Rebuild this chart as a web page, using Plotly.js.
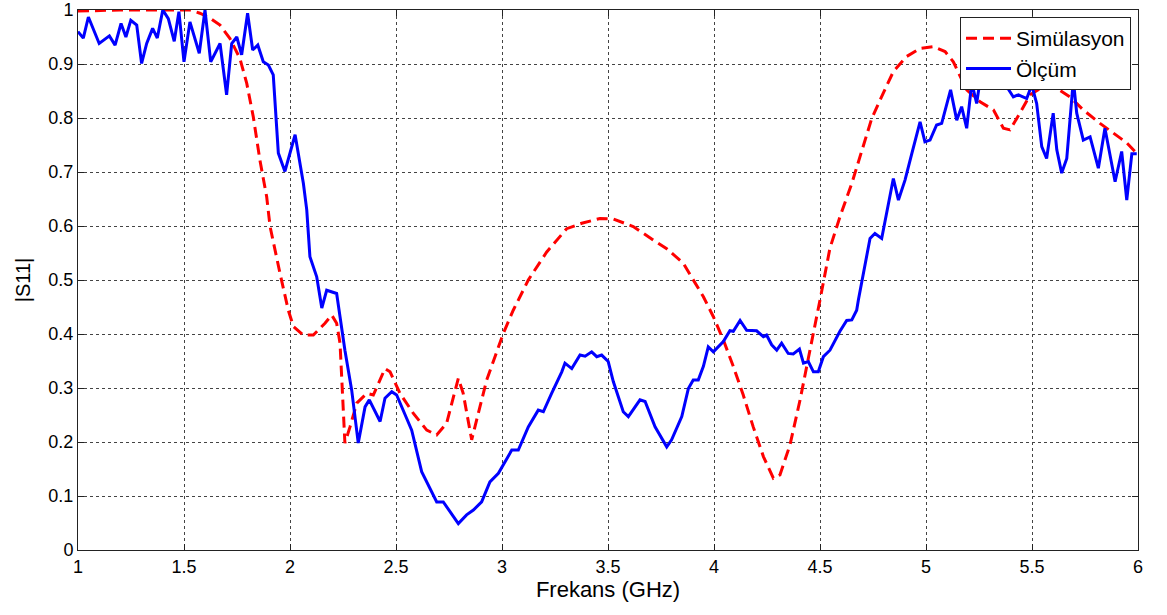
<!DOCTYPE html>
<html>
<head>
<meta charset="utf-8">
<script src="https://cdn.plot.ly/plotly-3.0.1.min.js"></script>
<style>html,body{margin:0;padding:0;background:#fff;}#chart{width:1167px;height:615px;}</style>
</head>
<body>
<div id="chart"></div>
<script>
// Simulation (red dashed)
const simFreq = [1.0,1.198,1.387,1.528,1.575,1.623,1.670,1.717,1.764,1.796,1.827,1.858,1.890,1.906,1.953,1.992,2.016,2.063,2.110,2.165,2.197,2.220,2.236,2.245,2.259,2.283,2.315,2.362,2.393,2.448,2.472,2.519,2.582,2.645,2.692,2.739,2.794,2.817,2.857,2.888,2.928,2.967,3.006,3.053,3.124,3.211,3.305,3.376,3.462,3.525,3.619,3.714,3.777,3.855,3.902,3.950,3.997,4.044,4.091,4.138,4.185,4.233,4.280,4.311,4.358,4.406,4.445,4.476,4.500,4.547,4.594,4.650,4.697,4.744,4.783,4.846,4.909,4.972,5.035,5.090,5.129,5.192,5.255,5.318,5.365,5.396,5.443,5.491,5.553,5.617,5.679,5.742,5.821,5.884,5.947,5.986];
const simS11 = [0.998,1.0,1.0,1.0,0.994,0.985,0.972,0.947,0.910,0.864,0.802,0.722,0.654,0.599,0.512,0.444,0.414,0.398,0.398,0.420,0.435,0.420,0.383,0.300,0.198,0.228,0.272,0.290,0.287,0.336,0.330,0.290,0.253,0.222,0.213,0.235,0.318,0.290,0.204,0.253,0.315,0.358,0.401,0.444,0.500,0.552,0.595,0.605,0.614,0.613,0.599,0.574,0.558,0.531,0.500,0.469,0.432,0.389,0.340,0.287,0.228,0.173,0.133,0.139,0.194,0.278,0.355,0.414,0.463,0.559,0.617,0.679,0.741,0.799,0.833,0.886,0.914,0.929,0.932,0.923,0.904,0.852,0.830,0.815,0.781,0.778,0.809,0.843,0.858,0.855,0.839,0.815,0.790,0.772,0.754,0.738];

// Measurement (blue solid)
const measFreq = [1.000,1.025,1.049,1.100,1.148,1.175,1.203,1.226,1.249,1.277,1.300,1.324,1.352,1.374,1.400,1.426,1.454,1.476,1.500,1.528,1.572,1.599,1.626,1.670,1.701,1.725,1.749,1.772,1.800,1.824,1.848,1.874,1.898,1.921,1.945,1.976,2.024,2.063,2.079,2.094,2.126,2.150,2.173,2.220,2.236,2.259,2.291,2.322,2.354,2.374,2.425,2.448,2.480,2.503,2.550,2.574,2.621,2.645,2.692,2.723,2.794,2.833,2.865,2.904,2.943,2.983,3.046,3.077,3.124,3.171,3.195,3.234,3.282,3.297,3.329,3.368,3.392,3.423,3.447,3.470,3.501,3.525,3.572,3.596,3.651,3.675,3.722,3.777,3.800,3.848,3.879,3.902,3.926,3.950,3.973,3.997,4.044,4.075,4.091,4.123,4.154,4.201,4.233,4.248,4.272,4.296,4.319,4.350,4.374,4.403,4.422,4.445,4.469,4.492,4.516,4.547,4.594,4.626,4.650,4.673,4.681,4.736,4.759,4.791,4.815,4.846,4.870,4.901,4.933,4.972,4.995,5.019,5.050,5.074,5.116,5.145,5.168,5.192,5.216,5.239,5.255,5.283,5.318,5.349,5.381,5.412,5.436,5.475,5.499,5.522,5.546,5.569,5.600,5.617,5.640,5.664,5.695,5.711,5.742,5.774,5.813,5.844,5.892,5.923,5.947,5.971,5.994];
const measS11 = [0.960,0.948,0.987,0.938,0.952,0.935,0.975,0.950,0.981,0.972,0.901,0.938,0.966,0.948,1.0,0.984,0.942,0.997,0.904,0.978,0.920,1.0,0.904,0.938,0.843,0.938,0.950,0.917,0.994,0.926,0.935,0.904,0.898,0.880,0.735,0.701,0.769,0.679,0.630,0.543,0.506,0.448,0.481,0.475,0.432,0.370,0.296,0.198,0.265,0.278,0.238,0.281,0.293,0.287,0.244,0.222,0.145,0.126,0.089,0.089,0.049,0.065,0.074,0.089,0.126,0.142,0.185,0.185,0.228,0.259,0.256,0.290,0.330,0.346,0.336,0.361,0.359,0.367,0.358,0.361,0.349,0.312,0.256,0.247,0.278,0.275,0.228,0.191,0.204,0.247,0.299,0.315,0.315,0.340,0.376,0.367,0.386,0.406,0.405,0.425,0.407,0.406,0.395,0.398,0.380,0.370,0.383,0.364,0.363,0.372,0.346,0.349,0.330,0.330,0.358,0.370,0.405,0.425,0.426,0.444,0.463,0.577,0.586,0.577,0.624,0.688,0.648,0.685,0.734,0.793,0.756,0.759,0.787,0.790,0.852,0.796,0.821,0.781,0.865,0.827,0.870,0.860,0.865,0.861,0.858,0.839,0.843,0.836,0.861,0.827,0.747,0.725,0.809,0.741,0.698,0.725,0.870,0.809,0.759,0.765,0.707,0.781,0.682,0.738,0.648,0.734,0.734];

const seriesNames = ['Simülasyon', 'Ölçüm'];
const xTitle = 'Frekans (GHz)';
const yTitle = '|S11|';

const FONT = 'Liberation Sans, Arial, sans-serif';

const traces = [
  {x: simFreq, y: simS11, name: seriesNames[0], type: 'scatter', mode: 'lines',
   line: {color: '#ff0000', width: 3, dash: '11px,6px'}},
  {x: measFreq, y: measS11, name: seriesNames[1], type: 'scatter', mode: 'lines',
   line: {color: '#0000ff', width: 3}}
];

const axisCommon = {
  showgrid: true, gridcolor: '#444', griddash: 'dot', gridwidth: 1,
  showline: true, linecolor: '#222', linewidth: 1, mirror: 'ticks',
  ticks: 'inside', ticklen: 6, tickcolor: '#222', zeroline: false,
  tickfont: {family: FONT, size: 18, color: '#000'}
};

const layout = {
  width: 1167, height: 615,
  margin: {l: 78, r: 29, t: 10, b: 65},
  paper_bgcolor: '#fff', plot_bgcolor: '#fff',
  showlegend: true,
  legend: {x: 0.9934, y: 0.987, xanchor: 'right', yanchor: 'top',
    bgcolor: '#fff', bordercolor: '#222', borderwidth: 1,
    font: {family: FONT, size: 21, color: '#000'},
    itemwidth: 45, tracegroupgap: 0},
  xaxis: Object.assign({}, axisCommon, {range: [1, 6], dtick: 0.5, tick0: 1,
    title: {text: xTitle, standoff: 2, font: {family: FONT, size: 22, color: '#000'}}}),
  yaxis: Object.assign({}, axisCommon, {range: [0, 1], dtick: 0.1, tick0: 0,
    title: {text: yTitle, standoff: 12, font: {family: FONT, size: 20, color: '#000'}}})
};

Plotly.newPlot('chart', traces, layout, {displayModeBar: false, staticPlot: true});
</script>
</body>
</html>
